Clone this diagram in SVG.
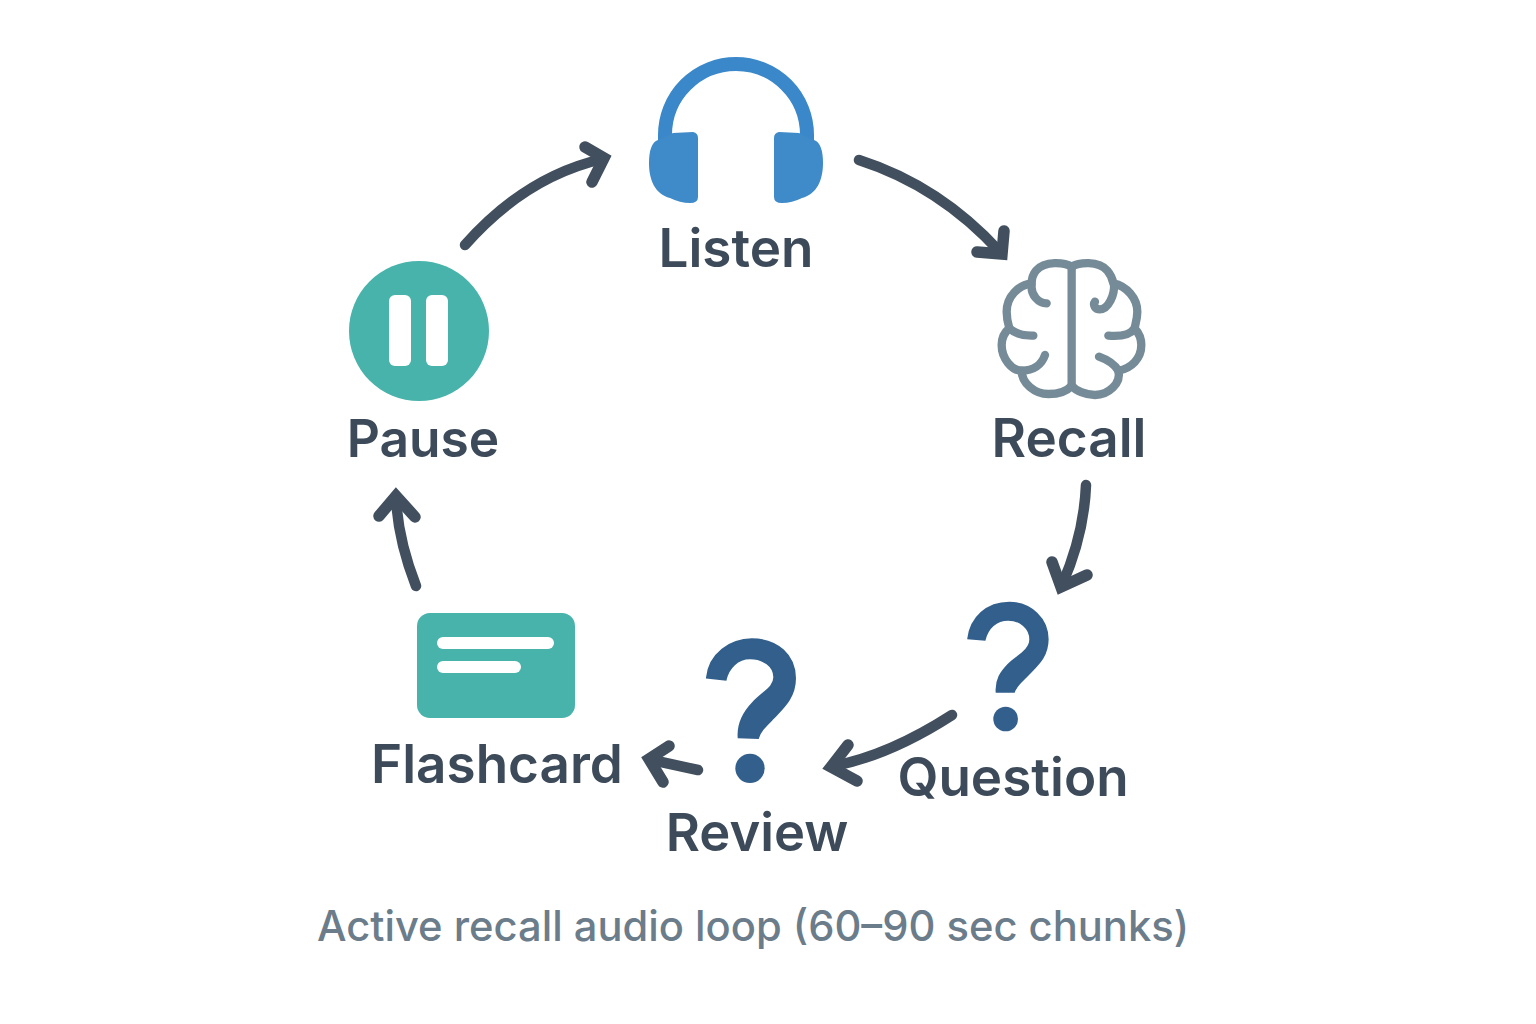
<svg xmlns="http://www.w3.org/2000/svg" width="1536" height="1024" viewBox="0 0 1536 1024">
<style>
.lb{font-family:"Inter","Noto Sans",sans-serif;font-weight:600;font-size:53px;fill:#3c4a59;text-anchor:middle}
.cap{font-family:"Inter","Noto Sans",sans-serif;font-weight:500;font-size:41.7px;fill:#6b7c8a;text-anchor:middle}
.ar{fill:none;stroke:#414f5e;stroke-width:10.5;stroke-linecap:round}
.hd{fill:none;stroke:#414f5e;stroke-width:11.5;stroke-linecap:round;stroke-linejoin:miter;stroke-miterlimit:6}
.br{fill:none;stroke:#768b98;stroke-width:25;stroke-linecap:round;stroke-linejoin:round}
.qf{fill:#325f8c}
.qs{fill:#325f8c;stroke:#325f8c;stroke-width:6}
</style>
<rect width="1536" height="1024" fill="#fff"/>
<g id="connectors">
<path class="ar" d="M465,245Q525,177 602,159"/><path class="hd" d="M585,147L604,158L592,182"/>
<path class="ar" d="M859,160Q940,186 1000,252"/><path class="hd" d="M1004,231L1002,254L977,252"/>
<path class="ar" d="M1086,485Q1084,535 1062,585"/><path class="hd" d="M1052,562L1061,587L1087,575"/>
<path class="ar" d="M952,715Q890,755 834,766"/><path class="hd" d="M848,745L831,767L857,781"/>
<path class="ar" d="M698,770L652,760"/><path class="hd" d="M669,746L649,759L663,782"/>
<path class="ar" d="M416,586Q398,540 396,498"/><path class="hd" d="M379,516L396,496L415,517"/>
</g>
<g id="listen">
<path d="M665,140V135A71,71 0 0 1 807,135V140" fill="none" stroke="#3a88ca" stroke-width="14"/>
<g fill="#3f8ac8">
<path d="M673,133L693,132Q698,133 698,138V197Q698,203 690,203Q680,203 670,198C655,194 649,180 649,163C649,150 652,142 658,140Z"/>
<path d="M799,133L779,132Q774,133 774,138V197Q774,203 782,203Q792,203 802,198C817,194 823,180 823,163C823,150 820,142 814,140Z"/>
</g>
<text class="lb" x="736" y="267">Listen</text>
</g>
<g id="recall">
<g transform="translate(980,240) scale(0.3333)">
<path class="br" d="M275,80V440"/>
<path class="br" d="M275,80C255,68 195,60 168,92C158,104 155,118 155,130C115,135 80,170 80,215C80,238 85,255 88,265C70,280 65,295 65,315C65,355 95,392 125,392C125,430 165,462 205,462C235,462 262,452 275,437"/>
<path class="br" d="M155,135C152,165 175,190 200,190M88,265C105,280 130,288 160,287M195,345C185,375 160,392 125,392"/>
<path class="br" d="M275,80C295,68 355,60 382,92C392,104 398,118 400,130C440,138 472,175 472,215C472,238 465,255 464,265C478,280 484,295 484,315C484,355 455,385 415,392C425,430 385,465 345,465C315,465 288,452 275,437"/>
<path class="br" d="M402,130C405,165 385,208 360,208C345,208 338,195 345,185M385,287C420,290 450,285 464,265M357,350C385,360 405,375 415,392"/>
</g>
<text class="lb" x="1069" y="457">Recall</text>
</g>
<g id="question">
<g transform="translate(690,590) scale(0.3333)">
<path class="qs" d="M835,145C843,83 890,38 958,38C1023,38 1073,87 1073,148C1073,200 1042,225 1015,253C996,273 978,286 972,305L920,305C918,268 933,247 955,224C983,197 1021,182 1021,148C1021,113 990,89 955,89C918,89 893,113 884,149Z"/>
<circle class="qf" cx="947" cy="387" r="37"/>
</g>
<text class="lb" x="1013" y="796">Question</text>
</g>
<g id="review">
<g transform="translate(690,590) scale(0.3333)">
<path class="qs" d="M51,263C58,192 122,148 185,148C263,148 315,197 315,265C315,323 279,353 248,386C226,408 209,424 204,444L146,442C143,400 161,367 190,337C221,305 253,292 253,262C253,228 220,205 180,205C143,205 115,233 107,269Z"/>
<circle class="qf" cx="180" cy="535" r="44"/>
</g>
<text class="lb" x="757" y="851" style="font-size:52.5px">Review</text>
</g>
<g id="flashcard">
<rect x="417" y="613" width="158" height="105" rx="13" fill="#47b3aa"/>
<rect x="437" y="637" width="117" height="12" rx="6" fill="#fff"/>
<rect x="437" y="661" width="84" height="12" rx="6" fill="#fff"/>
<text class="lb" x="497" y="783">Flashcard</text>
</g>
<g id="pause">
<circle cx="419" cy="331" r="70" fill="#47b3aa"/>
<rect x="389" y="295" width="22" height="71" rx="6" fill="#fff"/>
<rect x="426" y="295" width="22" height="71" rx="6" fill="#fff"/>
<text class="lb" x="423" y="457" style="font-size:51.5px">Pause</text>
</g>
<text class="cap" x="753" y="941">Active recall audio loop (60–90 sec chunks)</text>
</svg>
